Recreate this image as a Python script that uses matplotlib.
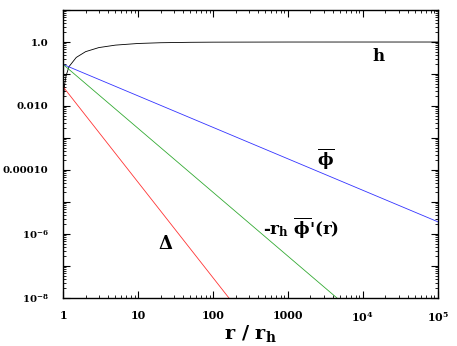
import numpy as np
import matplotlib
matplotlib.use("Agg")
import matplotlib.pyplot as plt
from matplotlib.ticker import FixedLocator, NullFormatter

plt.rcParams['font.family'] = 'DejaVu Serif'
plt.rcParams['font.weight'] = 'bold'
plt.rcParams['mathtext.fontset'] = 'dejavuserif'

# values
r_h = [1.01, 1.02, 1.05, 1.1, 1.2, 1.5, 2, 3, 5, 10, 20, 50, 100, 1e3, 1e4, 1e5]
h = [0.01, 0.02, 0.048, 0.09, 0.17, 0.33, 0.5, 0.67, 0.8, 0.9, 0.95, 0.98, 0.99, 0.999, 1.0, 1.0]

r_phi = [1, 1e5]
phi = [0.2, 2.4e-6]

r_dphi = [1, 4500]
dphi = [0.2, 1e-8]

r_delta = [1, 163]
delta = [0.04, 1e-8]

xticks = [1, 10, 100, 1000, 1e4, 1e5]
xticklabels = ['1', '10', '100', '1000', r'$\mathbf{10^4}$', r'$\mathbf{10^5}$']
yticks = [1e-8, 1e-6, 1e-4, 1e-2, 1.0]
yticklabels = [r'$\mathbf{10^{-8}}$', r'$\mathbf{10^{-6}}$', '0.00010', '0.010', '1.0']

fig = plt.figure(figsize=(4.57, 3.46), dpi=100)
ax = fig.add_axes([0.138, 0.139, 0.820, 0.832])

ax.plot(r_h, h, color='black', lw=0.6)
ax.plot(r_phi, phi, color='#3333ff', lw=0.6)
ax.plot(r_dphi, dphi, color='#33aa33', lw=0.6)
ax.plot(r_delta, delta, color='#ff3333', lw=0.6)

ax.set_xscale('log')
ax.set_yscale('log')
ax.set_xlim(1, 1e5)
ax.set_ylim(1e-8, 10)

ax.set_xticks(xticks)
ax.set_xticklabels(xticklabels)
decades = [10.0 ** k for k in range(-8, 2)]
ax.set_yticks(decades)
ylab = []
for v in decades:
    lab = ''
    for t, l in zip(yticks, yticklabels):
        if abs(np.log10(t) - np.log10(v)) < 1e-6:
            lab = l
    ylab.append(lab)
ax.set_yticklabels(ylab)

minors_x = [m * 10.0 ** k for k in range(0, 5) for m in range(2, 10)]
minors_y = [m * 10.0 ** k for k in range(-8, 1) for m in range(2, 10)]
ax.xaxis.set_minor_locator(FixedLocator(minors_x))
ax.yaxis.set_minor_locator(FixedLocator(minors_y))
ax.xaxis.set_minor_formatter(NullFormatter())
ax.yaxis.set_minor_formatter(NullFormatter())

ax.tick_params(which='both', direction='in', top=True, right=True)
ax.tick_params(which='major', length=5, width=0.8)
ax.tick_params(axis='x', which='major', pad=9, labelsize=8)
ax.tick_params(axis='y', which='major', pad=10.5, labelsize=7.3)
ax.tick_params(which='minor', length=2.5, width=0.6)
for s in ax.spines.values():
    s.set_linewidth(1.0)

ax.text(1.6e4, 0.35, 'h', fontsize=12, fontweight='bold', ha='center', va='center')
ax.text(3.2e3, 2.2e-4, r'$\mathbf{\overline{\phi}}$', fontsize=12, ha='center', va='center')
ax.text(1.5e3, 1.6e-6, r"-r$_\mathbf{h}$ $\mathbf{\overline{\phi}}$'(r)", fontsize=12,
        fontweight='bold', ha='center', va='center')
ax.text(23.6, 4.9e-7, r'$\mathbf{\Delta}$', fontsize=13, ha='center', va='center')

ax.set_xlabel(r'r / r$_\mathbf{h}$', fontsize=14, fontweight='bold', labelpad=-1)

fig.savefig('out.png', dpi=100)
